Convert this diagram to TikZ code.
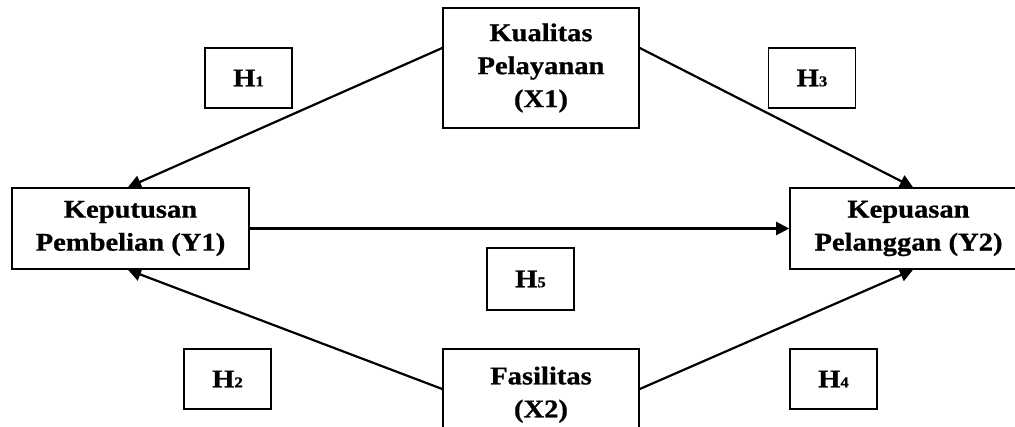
\documentclass[tikz,border=0pt]{standalone}
\usepackage{fontspec}
\setmainfont{Liberation Serif}[FakeStretch=1.12,BoldFeatures={FakeBold=0.8}]
\usetikzlibrary{arrows.meta}
\begin{document}
\begin{tikzpicture}[x=1pt,y=-1pt,
  box/.style={draw,line width=1.6pt,rectangle,inner sep=0pt,align=center,
    font=\bfseries\fontsize{25.5}{33}\selectfont},
  hbox/.style={draw,line width=1.6pt,rectangle,inner sep=0pt,
    minimum width=87pt,minimum height=60pt,font=\bfseries\fontsize{25.5}{33}\selectfont},
  arr/.style={line width=2.2pt,-{Triangle[length=13pt,width=13pt]}}]
\clip (0,0) rectangle (1015,427);
\fill[white] (0,0) rectangle (1015,427);
\node[box,minimum width=237pt,minimum height=81pt] (Y1) at (130.5,228.5) {Keputusan\\Pembelian (Y1)};
\node[box,minimum width=237pt,minimum height=81pt] (Y2) at (908.5,228.5) {Kepuasan\\Pelanggan (Y2)};
\node[box,minimum width=196pt,minimum height=120pt] (X1) at (541,68) {Kualitas\\Pelayanan\\(X1)};
\node[box,minimum width=196pt,minimum height=120pt,text depth=34pt] (X2) at (541,409) {Fasilitas\\(X2)};
\node[hbox] (H1) at (248.5,78) {H{\fontsize{15}{15}\selectfont 1}};
\node[hbox] (H3) at (812,78) {H{\fontsize{15}{15}\selectfont 3}};
\node[hbox,minimum height=62pt] (H5) at (530.5,279) {H{\fontsize{15}{15}\selectfont 5}};
\node[hbox] (H2) at (227.5,379) {H{\fontsize{15}{15}\selectfont 2}};
\node[hbox] (H4) at (833.5,379) {H{\fontsize{15}{15}\selectfont 4}};
\draw[arr] ([yshift=20pt]X1.west) -- ([xshift=-2.5pt]Y1.north);
\draw[arr] ([yshift=20pt]X1.east) -- ([xshift=4.5pt]Y2.north);
\draw[arr] (Y1.east) -- (Y2.west);
\draw[arr] ([yshift=20pt]X2.west) -- ([xshift=-2.5pt]Y1.south);
\draw[arr] ([yshift=20pt]X2.east) -- ([xshift=4.5pt]Y2.south);
\end{tikzpicture}
\end{document}
